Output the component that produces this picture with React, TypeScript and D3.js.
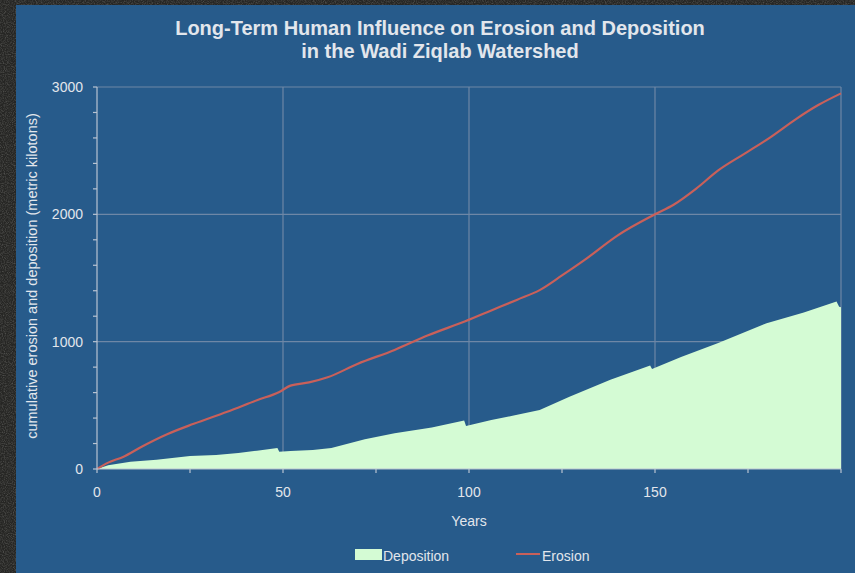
import React, { useMemo } from "react";
import * as d3 from "d3";

// Cumulative erosion (metric kilotons) by year
const erosionYears = [0, 3, 7, 12, 19, 26, 35, 43, 49, 52, 57, 62, 70, 80, 89, 99, 106, 113, 119, 125, 131, 140, 150, 155, 161, 167, 174, 181, 188, 194, 200];
const erosionValues = [0, 50, 95, 175, 275, 355, 450, 540, 605, 655, 680, 720, 825, 935, 1050, 1160, 1245, 1330, 1405, 1520, 1640, 1835, 2000, 2075, 2200, 2345, 2475, 2605, 2750, 2860, 2950];

// Cumulative deposition (metric kilotons) by year
const depositionYears = [0, 3, 9, 16, 25, 32, 38, 43, 48.5, 49, 52, 58, 63, 72, 80, 90, 98.7, 99.2, 106, 112, 119, 127, 138, 148.7, 149.2, 157, 167, 180, 190, 198.8, 199.5, 200];
const depositionValues = [0, 30, 57, 72, 102, 110, 125, 144, 165, 135, 141, 149, 165, 233, 280, 325, 380, 337, 385, 420, 463, 568, 700, 812, 785, 880, 990, 1145, 1230, 1315, 1275, 1270];

const xTickLabels = [0, 50, 100, 150];
const yTickLabels = [0, 1000, 2000, 3000];

const titleLines = [
  "Long-Term Human Influence on Erosion and Deposition",
  "in the Wadi Ziqlab Watershed",
];

const W = 855;
const H = 573;
const BG = "#275b8b";
const TEXT = "#e2e6ec";
const GRID = "#6e87a6";
const AXIS = "#b9c4d2";
const EROSION = "#c9605a";
const DEPOSITION = "#d4fbd4";
const FONT = "'Liberation Sans', Arial, Helvetica, sans-serif";

export default function App() {
  const x = useMemo(() => d3.scaleLinear().domain([0, 200]).range([97, 841]), []);
  const y = useMemo(() => d3.scaleLinear().domain([0, 3000]).range([469, 87]), []);

  const erosion = erosionYears.map((t, i) => [t, erosionValues[i]] as [number, number]);
  const deposition = depositionYears.map((t, i) => [t, depositionValues[i]] as [number, number]);

  const linePath = d3
    .line<[number, number]>()
    .x((d) => x(d[0]))
    .y((d) => y(d[1]))
    .curve(d3.curveMonotoneX)(erosion) as string;

  const areaPath = d3
    .area<[number, number]>()
    .x((d) => x(d[0]))
    .y0(y(0))
    .y1((d) => y(d[1]))(deposition) as string;

  const xMinor = d3.range(0, 201, 25);
  const yMinor = d3.range(0, 3001, 200);
  const xGrid = [50, 100, 150, 200];
  const yGrid = [1000, 2000, 3000];

  const [x0, x1] = x.range();
  const [yb, yt] = y.range();

  return (
    <div style={{ position: "absolute", left: 0, top: 0 }}>
      <svg width={W} height={H} style={{ display: "block" }}>
        <defs>
          <filter id="grain" x="0" y="0" width="100%" height="100%">
            <feTurbulence type="fractalNoise" baseFrequency="0.9" numOctaves="2" seed="3" result="n" />
            <feColorMatrix
              in="n"
              type="matrix"
              values="0 0 0 0 0.4  0 0 0 0 0.4  0 0 0 0 0.38  0 0 0 1.4 -0.55"
            />
          </filter>
        </defs>

        {/* dark textured surround */}
        <rect x={0} y={0} width={W} height={H} fill="#262624" />
        <rect x={0} y={0} width={W} height={H} filter="url(#grain)" opacity={0.45} />

        {/* panel */}
        <rect x={16} y={5} width={W - 16} height={H - 5} fill={BG} />

        {/* title */}
        <g fontFamily={FONT} fontWeight="bold" fontSize={20} fill={TEXT} textAnchor="middle">
          {titleLines.map((t, i) => (
            <text key={i} x={440} y={35 + i * 23}>
              {t}
            </text>
          ))}
        </g>

        {/* gridlines */}
        <g stroke={GRID} strokeWidth={1.2}>
          {xGrid.map((v) => (
            <line key={"gx" + v} x1={x(v)} x2={x(v)} y1={yt} y2={yb} />
          ))}
          {yGrid.map((v) => (
            <line key={"gy" + v} x1={x0} x2={x1} y1={y(v)} y2={y(v)} />
          ))}
        </g>

        {/* deposition area */}
        <path d={areaPath} fill={DEPOSITION} />

        {/* erosion line */}
        <path d={linePath} fill="none" stroke={EROSION} strokeWidth={2.2} strokeLinejoin="round" />

        {/* axes */}
        <g stroke={AXIS} strokeWidth={1.2}>
          <line x1={x0} x2={x0} y1={yt} y2={yb} />
          <line x1={x0} x2={x1} y1={yb} y2={yb} />
          {yMinor.map((v) => (
            <line key={"ty" + v} x1={x0 - 4} x2={x0} y1={y(v)} y2={y(v)} />
          ))}
          {xMinor.map((v) => (
            <line key={"tx" + v} x1={x(v)} x2={x(v)} y1={yb} y2={yb + 4} />
          ))}
        </g>

        {/* tick labels */}
        <g fontFamily={FONT} fontSize={14} fill={TEXT}>
          {yTickLabels.map((v) => (
            <text key={"ly" + v} x={83} y={y(v) + 5} textAnchor="end">
              {v}
            </text>
          ))}
          {xTickLabels.map((v) => (
            <text key={"lx" + v} x={x(v)} y={497} textAnchor="middle">
              {v}
            </text>
          ))}
          <text x={469} y={526} textAnchor="middle">
            Years
          </text>
          <text
            fontSize={14.5}
            transform={`translate(37, ${(yt + yb) / 2 - 2}) rotate(-90)`}
            textAnchor="middle"
          >
            cumulative erosion and deposition (metric kilotons)
          </text>
        </g>

        {/* legend */}
        <g fontFamily={FONT} fontSize={14} fill={TEXT}>
          <rect x={355} y={549} width={27} height={11} fill={DEPOSITION} />
          <text x={383} y={561}>Deposition</text>
          <line x1={516} x2={540} y1={554} y2={554} stroke={EROSION} strokeWidth={2} />
          <text x={542} y={561}>Erosion</text>
        </g>
      </svg>
    </div>
  );
}
